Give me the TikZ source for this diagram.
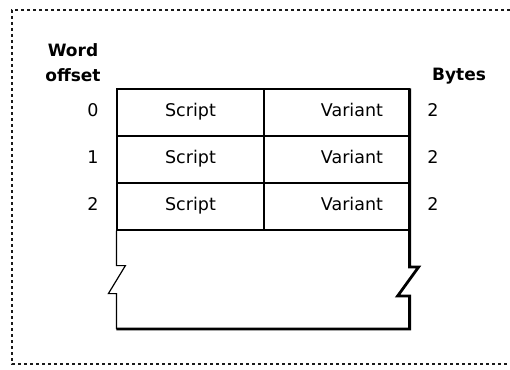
\documentclass[tikz,border=0pt]{standalone}
\usepackage{fontspec}
\setmainfont{DejaVu Sans}
\usetikzlibrary{positioning}
\definecolor{ink}      {HTML}{000000}
\definecolor{framegray}{HTML}{1A1A1A}
\tikzset{
  cellbox/.style    ={draw=ink, line width=1.2pt, minimum height=47pt,
                      inner sep=0pt, text height=12pt, text depth=4pt,
                      font=\fontsize{17.5}{20}\selectfont},
  scriptcell/.style ={cellbox, minimum width=147pt},
  variantcell/.style={cellbox, text width=93pt, inner xsep=26pt, align=right},
  numlabel/.style   ={font=\fontsize{17.5}{20}\selectfont, inner sep=1pt,
                      text height=12pt, text depth=4pt},
  headlabel/.style  ={font=\fontsize{17}{25}\selectfont\bfseries, align=center, inner sep=0pt},
  thinline/.style   ={draw=ink, line width=1.2pt, line join=miter},
  thickline/.style  ={draw=ink, line width=2.8pt, line join=miter},
  frameline/.style  ={draw=framegray, line width=1.6pt, dash pattern=on 3pt off 3pt},
}
\begin{document}
\begin{tikzpicture}[x=1pt,y=-1pt]
    \useasboundingbox (0,0) rectangle (510,369);
    % dotted frame
    \draw[frameline] (510,10) -- (12,10) -- (12,364) -- (510,364);

    \node[headlabel] (word) at (73,63) {Word\\offset};
    \node[headlabel] (bytes) at (459,76) {Bytes};

    \node[scriptcell] (s0) at (190.5,112.5) {Script};
    \node[scriptcell] (s1) at (190.5,159.5) {Script};
    \node[scriptcell] (s2) at (190.5,206.5) {Script};
    \node[variantcell] (v0) at (336.5,112.5) {Variant};
    \node[variantcell] (v1) at (336.5,159.5) {Variant};
    \node[variantcell] (v2) at (336.5,206.5) {Variant};

    \node[numlabel] (o0) at (93,112.5) {0};
    \node[numlabel] (o1) at (93,159.5) {1};
    \node[numlabel] (o2) at (93,206.5) {2};
    \node[numlabel] (b0) at (433,112.5) {2};
    \node[numlabel] (b1) at (433,159.5) {2};
    \node[numlabel] (b2) at (433,206.5) {2};

    \coordinate (bot) at (263,329);
    \draw[thinline] (s2.south west) -- ++(0,35) -- ++(9,0) -- ++(-17,28) -- ++(8,0) -- (s2.south west |- bot);
    \draw[thickline] (s2.south west |- bot) -- (v2.south east |- bot) -- ++(0,-33) -- ++(-12,0)
      -- ++(21,-29) -- ++(-9,0) -- (v0.north east);
  \end{tikzpicture}
\end{document}
